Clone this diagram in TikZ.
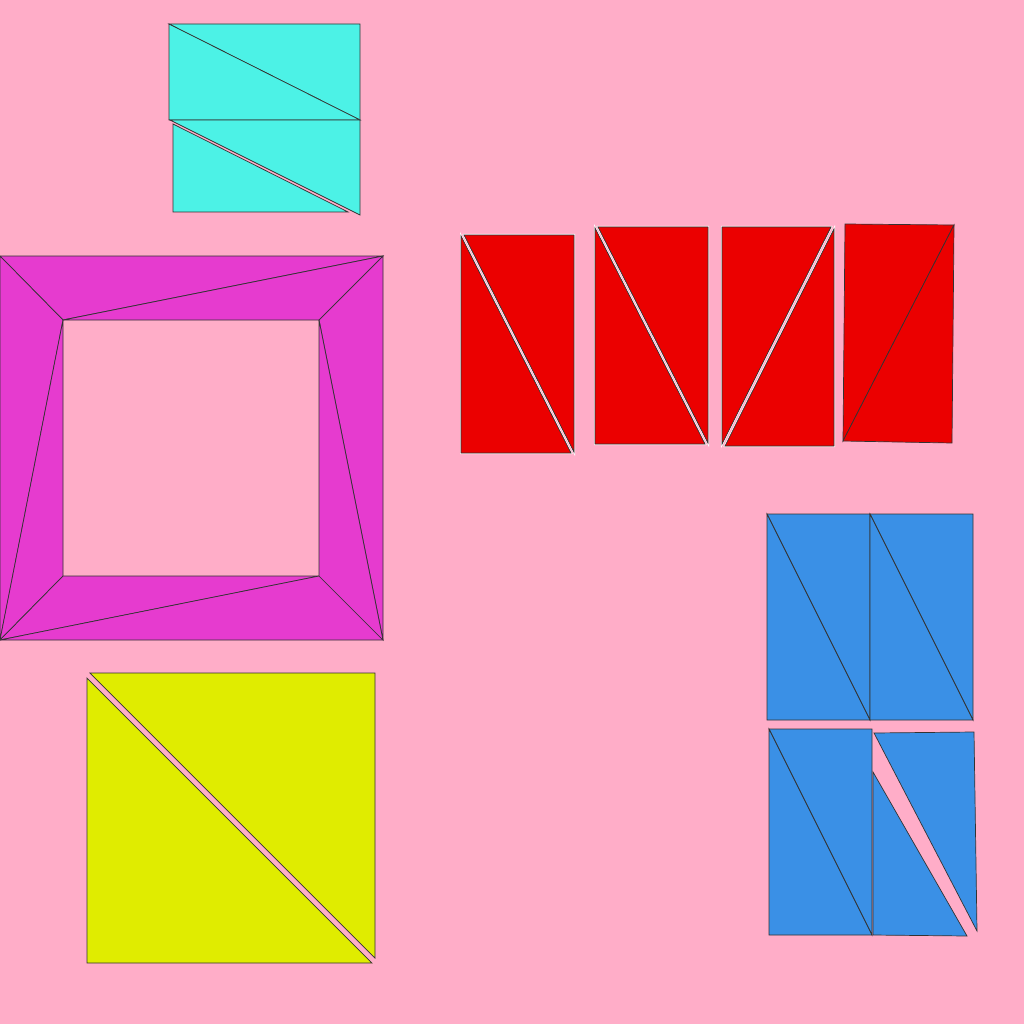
\documentclass[tikz,border=0pt]{standalone}
\definecolor{bg}{HTML}{FFADC8}
\definecolor{cy}{HTML}{4CF2E6}
\definecolor{rd}{HTML}{EB0000}
\definecolor{mg}{HTML}{E63BCF}
\definecolor{yl}{HTML}{E0EC00}
\definecolor{bl}{HTML}{3A90E6}
\begin{document}
\begin{tikzpicture}[x=1pt,y=-1pt,
  tri/.style={fill=#1, draw=black!80, line width=0.7pt, line join=miter},
  gaptri/.style={tri=#1, preaction={draw=white, line width=2pt}}]
\fill[bg] (0,0) rectangle (1024,1024);
\useasboundingbox (0,0) rectangle (1024,1024);
% cyan
\draw[tri=cy] (169,24) -- (360,24) -- (360,120) -- cycle;
\draw[tri=cy] (169,24) -- (169,120) -- (360,120) -- cycle;
\draw[tri=cy] (170,120) -- (360,120) -- (360,215) -- cycle;
\draw[tri=cy] (173,124) -- (173,212) -- (348,212) -- cycle;
% red
\draw[gaptri=rd] (464,235) -- (574,235) -- (574,452) -- cycle;
\draw[gaptri=rd] (461,236) -- (461,453) -- (571,453) -- cycle;
\draw[gaptri=rd] (598,227) -- (708,227) -- (708,443) -- cycle;
\draw[gaptri=rd] (595,228) -- (595,444) -- (705,444) -- cycle;
\draw[gaptri=rd] (722,227) -- (831,227) -- (722,444) -- cycle;
\draw[gaptri=rd] (834,229) -- (834,446) -- (725,446) -- cycle;
\draw[tri=rd] (845,224) -- (954,225) -- (843,441) -- cycle;
\draw[tri=rd] (954,225) -- (952,443) -- (843,441) -- cycle;
% magenta
\draw[tri=mg] (0,256) -- (383,256) -- (63,320) -- cycle;
\draw[tri=mg] (63,320) -- (383,256) -- (319,320) -- cycle;
\draw[tri=mg] (0,256) -- (63,320) -- (0,640) -- cycle;
\draw[tri=mg] (63,320) -- (63,576) -- (0,640) -- cycle;
\draw[tri=mg] (0,640) -- (63,576) -- (319,576) -- cycle;
\draw[tri=mg] (0,640) -- (319,576) -- (383,640) -- cycle;
\draw[tri=mg] (383,256) -- (383,640) -- (319,320) -- cycle;
\draw[tri=mg] (319,320) -- (319,576) -- (383,640) -- cycle;
% yellow
\draw[tri=yl] (90,673) -- (375,673) -- (375,958) -- cycle;
\draw[tri=yl] (87,678) -- (87,963) -- (372,963) -- cycle;
% blue
\draw[tri=bl] (767,514) -- (870,514) -- (870,720) -- cycle;
\draw[tri=bl] (767,514) -- (767,720) -- (870,720) -- cycle;
\draw[tri=bl] (870,514) -- (973,514) -- (973,720) -- cycle;
\draw[tri=bl] (870,514) -- (870,720) -- (973,720) -- cycle;
\draw[tri=bl] (769,729) -- (872,729) -- (872,935) -- cycle;
\draw[tri=bl] (769,729) -- (769,935) -- (872,935) -- cycle;
\draw[tri=bl] (874,733) -- (974,732) -- (977,931) -- cycle;
\draw[tri=bl] (873,772) -- (873,935) -- (967,936) -- cycle;
\end{tikzpicture}
\end{document}
